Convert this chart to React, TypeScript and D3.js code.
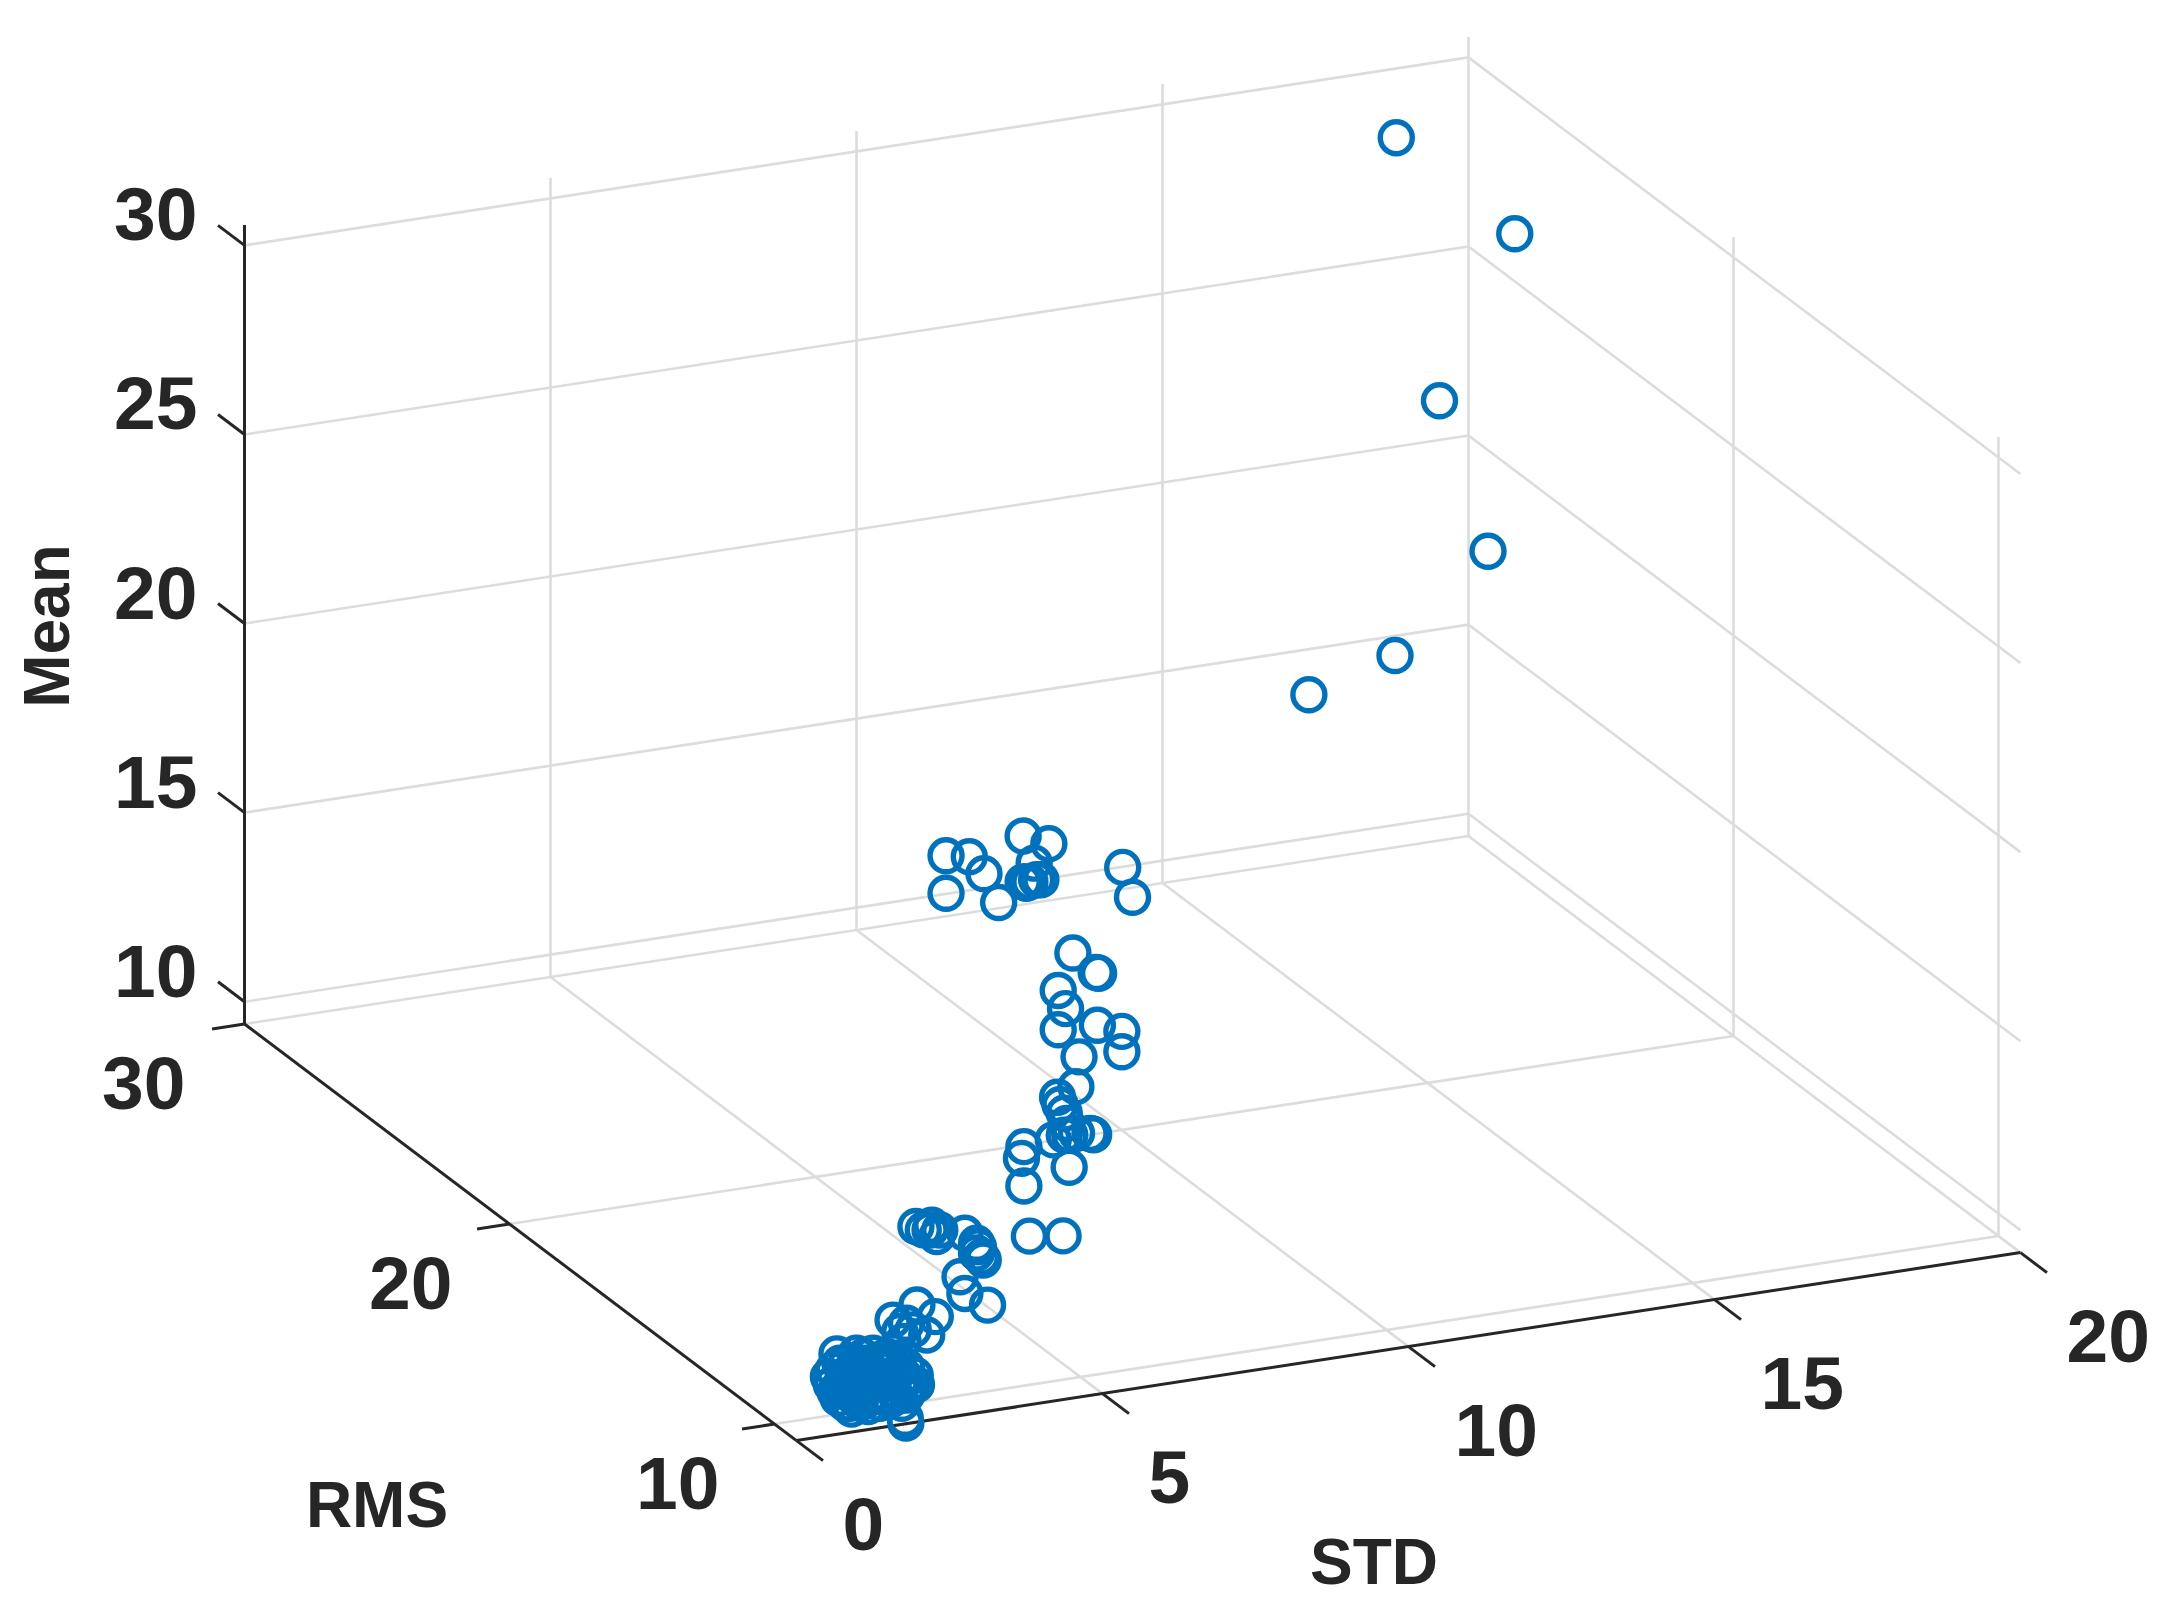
import React from "react";
import * as d3 from "d3";

const stdTicks = [0, 5, 10, 15, 20];
const rmsTicks = [10, 20, 30];
const meanTicks = [10, 15, 20, 25, 30];
const stdDomain = [0, 20];
const rmsDomain = [9.17, 30];
const meanDomain = [9.41, 30];
const meanTop = 30.54;

const stdValues = [
  18.82, 19.89, 18.66, 19.02, 17.5, 15.66,
  6.7, 7.08, 7.32, 6.7, 7.56, 7.96, 8.38, 8.14, 7.96, 8.07, 8.18, 8.25, 8.01, 10.18, 10.02,
  8.34, 8.72, 8.76, 8.1, 8.22, 8.1, 8.74, 9.14, 9.14, 8.44,
  7.09, 6.79, 6.83, 6.9, 6.94, 6.9, 6.72, 6.99, 7.1, 7.32, 7.35, 7.38, 6.24, 6.2, 6.24, 6.98, 6.33, 6.88,
  3.61, 3.73, 3.87, 3.84, 3.95, 4.0, 4.41, 4.6, 4.63, 4.68, 4.71, 4.6, 4.33, 4.41, 4.78,
  2.76, 3.06, 2.92, 2.37, 2.59, 2.48, 2.7,
  1.02, 0.88, 0.93, 1.04, 1.26, 1.4, 1.56, 1.78, 1.12, 1.29, 1.45, 1.61, 1.83, 2.0, 2.16, 2.3, 2.32, 2.16, 1.94, 1.4,
  1.61, 1.78, 1.94, 1.56, 1.23, 1.72, 2.05, 1.18, 1.45, 2.13, 1.7, 1.91, 1.4, 1.07, 2.08, 1.72, 2.24, 1.15, 2.1,
  1.29, 1.51, 1.78, 1.89, 1.61, 1.23, 1.4, 1.67, 2.05, 2.21, 2.0, 1.12, 0.96, 1.07, 1.34, 1.83, 1.29, 1.53, 0.99,
  1.79, 1.8,
];
const rmsValues = [
  30, 28, 28, 27, 27, 26,
  19, 19, 19, 19, 19, 19, 19, 19, 19, 19, 19, 19, 19, 20, 20,
  18, 18, 18, 18, 18, 18, 18, 18, 18, 18,
  15, 15, 15, 15, 15, 15, 15, 15, 15, 15, 15, 15, 15, 15, 15, 15, 15, 15,
  13, 13, 13, 13, 13, 13, 13, 13, 13, 13, 13, 13, 13, 13, 13,
  11, 11, 11, 11, 11, 11, 11,
  10, 10, 10, 10, 10, 10, 10, 10, 10, 10, 10, 10, 10, 10, 10, 10, 10, 10, 10, 10,
  10, 10, 10, 10, 10, 10, 10, 10, 10, 10, 10, 10, 10, 10, 10, 10, 10, 10, 10,
  10, 10, 10, 10, 10, 10, 10, 10, 10, 10, 10, 10, 10, 10, 10, 10, 10, 10, 10,
  9.2, 9.2,
];
const meanValues = [
  28.17, 26.42, 22.31, 18.77, 16.39, 16.34,
  18.01, 17.89, 17.38, 17.02, 16.56, 18.22, 17.91, 17.46, 17.01, 16.98, 17.01, 16.99, 16.96, 15.52, 16.35,
  15.56, 14.95, 14.92, 14.63, 14.12, 13.59, 13.55, 13.29, 12.75, 12.79,
  13.92, 13.72, 13.51, 13.27, 12.99, 12.69, 12.61, 12.67, 12.69, 12.63, 12.61, 12.58, 12.55, 12.25, 11.51, 11.82, 10.16, 10.03,
  12.15, 12.03, 12.12, 12.0, 11.8, 11.96, 11.77, 11.46, 11.36, 11.08, 10.99, 11.2, 10.64, 10.18, 9.78,
  11.34, 10.96, 10.51, 11.04, 10.9, 10.71, 10.7,
  11.01, 10.44, 10.21, 9.83, 9.49, 9.61, 9.7, 9.78, 10.38, 10.61, 10.83, 10.88, 10.74, 10.65, 10.39, 10.13, 9.87, 9.64, 9.83, 10.22,
  10.35, 10.4, 10.18, 10.1, 10.0, 10.06, 9.98, 10.72, 10.48, 10.13, 10.68, 10.45, 9.96, 10.13, 9.44, 9.53, 9.93, 9.67, 11.07,
  10.25, 10.64, 10.13, 9.57, 9.82, 9.65, 10.67, 10.51, 10.33, 9.76, 9.63, 10.03, 10.6, 10.75, 10.95, 10.56, 9.81, 9.49, 10.02,
  9.54, 9.41,
];

// Oblique 3-D projection: each data axis contributes a linear screen offset
const stdX = d3.scaleLinear().domain(stdDomain).range([0, 1224]);
const stdY = d3.scaleLinear().domain(stdDomain).range([0, -188]);
const rmsX = d3.scaleLinear().domain([30, 0]).range([244.5, 244.5 + 795]);
const rmsY = d3.scaleLinear().domain([30, 0]).range([1024, 1024 + 600]);
const meanY = d3.scaleLinear().domain([meanDomain[0], 30]).range([0, -778.6]);
const rmsLabelDx = d3.scaleLinear().domain([30, 10]).range([-59, -55]);

const project = (s: number, r: number, m: number): [number, number] => [
  rmsX(r) + stdX(s),
  rmsY(r) + stdY(s) + meanY(m),
];

const GRID = "#dcdcdc";
const AXIS = "#262626";
const BLUE = "#0072BD";
const FONT = "'Liberation Sans', Arial, sans-serif";

const Seg = ({ a, b, c, w }: { a: [number, number]; b: [number, number]; c: string; w: number }) => (
  <line x1={a[0]} y1={a[1]} x2={b[0]} y2={b[1]} stroke={c} strokeWidth={w} />
);

export default function App() {
  const [sMin, sMax] = stdDomain;
  const [rMin, rMax] = rmsDomain;
  const [mMin, mMax] = meanDomain;
  const gw = 2.6;
  const aw = 3;
  const tickStyle = { fontFamily: FONT, fontWeight: 700, fontSize: 75, fill: AXIS };
  const labelStyle = { fontFamily: FONT, fontWeight: 700, fontSize: 64, fill: AXIS };
  return (
    <svg
      width={2183}
      height={1612}
      style={{ position: "absolute", left: 0, top: 0, display: "block", background: "#fff" }}
    >
      <defs>
        <filter id="soft" x="0" y="0" width="100%" height="100%" filterUnits="userSpaceOnUse" primitiveUnits="userSpaceOnUse">
          <feGaussianBlur stdDeviation={0.7} />
        </filter>
      </defs>
      <g filter="url(#soft)">
      <rect x={0} y={0} width={2183} height={1612} fill="#fff" />
      <g>
        {/* wall rms = max: vertical std grid */}
        {stdTicks.slice(1).map((s) => (
          <Seg key={"ws" + s} a={project(s, rMax, mMin)} b={project(s, rMax, meanTop)} c={GRID} w={gw} />
        ))}
        {/* wall std = max: vertical rms grid */}
        {rmsTicks.slice(0, 2).map((r) => (
          <Seg key={"wr" + r} a={project(sMax, r, mMin)} b={project(sMax, r, meanTop)} c={GRID} w={gw} />
        ))}
        {/* horizontal mean grid on both walls */}
        {[mMin, ...meanTicks].map((m) => (
          <g key={"m" + m}>
            <Seg a={project(sMin, rMax, m)} b={project(sMax, rMax, m)} c={GRID} w={gw} />
            <Seg a={project(sMax, rMax, m)} b={project(sMax, rMin, m)} c={GRID} w={gw} />
          </g>
        ))}
        {/* floor grid */}
        {stdTicks.slice(1, 4).map((s) => (
          <Seg key={"fs" + s} a={project(s, rMax, mMin)} b={project(s, rMin, mMin)} c={GRID} w={gw} />
        ))}
        {rmsTicks.slice(0, 2).map((r) => (
          <Seg key={"fr" + r} a={project(sMin, r, mMin)} b={project(sMax, r, mMin)} c={GRID} w={gw} />
        ))}
      </g>

      <g>
        <Seg a={project(sMin, rMax, mMin)} b={project(sMin, rMax, meanTop)} c={AXIS} w={aw} />
        <Seg a={project(sMin, rMax, mMin)} b={project(sMin, rMin, mMin)} c={AXIS} w={aw} />
        <Seg a={project(sMin, rMin, mMin)} b={project(sMax, rMin, mMin)} c={AXIS} w={aw} />
        {meanTicks.map((m) => (
          <Seg key={m} a={project(sMin, rMax, m)} b={project(sMin, rMax + 1, m)} c={AXIS} w={aw} />
        ))}
        {rmsTicks.map((r) => (
          <Seg key={r} a={project(sMin, r, mMin)} b={project(sMin - 0.53, r, mMin)} c={AXIS} w={aw} />
        ))}
        {stdTicks.map((s) => (
          <Seg key={s} a={project(s, rMin, mMin)} b={project(s, rMin - 1, mMin)} c={AXIS} w={aw} />
        ))}
      </g>

      <g>
        {stdValues.map((s, i) => {
          const [x, y] = project(s, rmsValues[i], meanValues[i]);
          return <circle key={i} cx={x} cy={y} r={16} fill="none" stroke={BLUE} strokeWidth={5.4} />;
        })}
      </g>

      <g style={tickStyle}>
        {meanTicks.map((m) => {
          const [x, y] = project(sMin, rMax, m);
          return (
            <text key={m} x={x - 47} y={y - 31} textAnchor="end" dominantBaseline="central">
              {m}
            </text>
          );
        })}
        {rmsTicks.map((r) => {
          const [x, y] = project(sMin, r, mMin);
          return (
            <text key={r} x={x + rmsLabelDx(r)} y={y + 59} textAnchor="end" dominantBaseline="central">
              {r}
            </text>
          );
        })}
        {stdTicks.map((s) => {
          const [x, y] = project(s, rMin, mMin);
          return (
            <text key={s} x={x + 46} y={y + 83} textAnchor="start" dominantBaseline="central">
              {s}
            </text>
          );
        })}
      </g>

      <g style={labelStyle}>
        <text x={377} y={1505} textAnchor="middle" dominantBaseline="central">RMS</text>
        <text x={1374} y={1562} textAnchor="middle" dominantBaseline="central">STD</text>
        <text
          x={47}
          y={626}
          textAnchor="middle"
          dominantBaseline="central"
          transform="rotate(-90 47 626)"
        >
          Mean
        </text>
      </g>
      </g>
    </svg>
  );
}
